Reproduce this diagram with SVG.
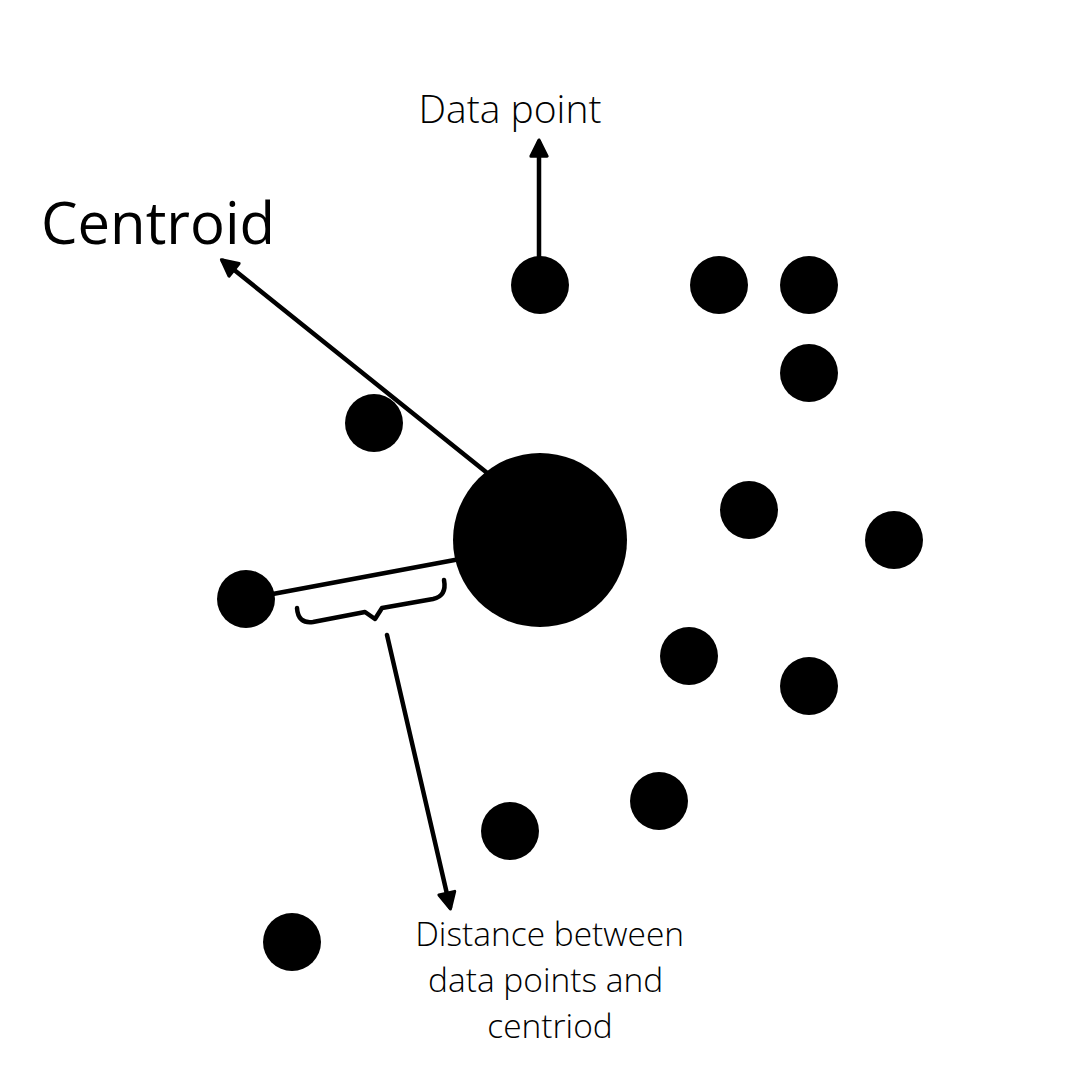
<svg xmlns="http://www.w3.org/2000/svg" width="1080" height="1080" viewBox="0 0 1080 1080">
<style>
.pt{fill:#000}
.ln{stroke:#000;stroke-width:4.5;fill:none;stroke-linecap:round;stroke-linejoin:round}
.lbl{font-family:"Open Sans","Noto Sans",sans-serif;font-weight:300;fill:#000}
</style>
<defs>
<marker id="ah" viewBox="0 0 10 10" refX="8" refY="5" markerWidth="4.5" markerHeight="4.5" orient="auto" markerUnits="strokeWidth">
<path d="M1,1 L9,5 L1,9 Z" fill="#000" stroke="#000" stroke-width="1.5" stroke-linejoin="round"/>
</marker>
</defs>
<rect width="1080" height="1080" fill="#fff"/>
<g id="connectors">
<line class="ln" x1="486" y1="472" x2="223" y2="261" marker-end="url(#ah)"/>
<line class="ln" x1="539" y1="258" x2="539" y2="142" marker-end="url(#ah)"/>
<line class="ln" x1="262" y1="596" x2="460" y2="559"/>
<path class="ln" d="M297,608 Q298,624 313,622 L365,612 L375,619 L382,608 L433,599 Q447,596 444,580"/>
<line class="ln" x1="387" y1="635" x2="450" y2="907" marker-end="url(#ah)"/>
</g>
<g id="centroid"><circle class="pt" cx="540" cy="540" r="87"/></g>
<g id="p1"><circle class="pt" cx="540" cy="285" r="29"/></g>
<g id="p2"><circle class="pt" cx="719" cy="285" r="29"/></g>
<g id="p3"><circle class="pt" cx="809" cy="285" r="29"/></g>
<g id="p4"><circle class="pt" cx="809" cy="373" r="29"/></g>
<g id="p5"><circle class="pt" cx="374" cy="423" r="29"/></g>
<g id="p6"><circle class="pt" cx="749" cy="510" r="29"/></g>
<g id="p7"><circle class="pt" cx="894" cy="540" r="29"/></g>
<g id="p8"><circle class="pt" cx="246" cy="599" r="29"/></g>
<g id="p9"><circle class="pt" cx="689" cy="656" r="29"/></g>
<g id="p10"><circle class="pt" cx="809" cy="686" r="29"/></g>
<g id="p11"><circle class="pt" cx="659" cy="801" r="29"/></g>
<g id="p12"><circle class="pt" cx="510" cy="831" r="29"/></g>
<g id="p13"><circle class="pt" cx="292" cy="942" r="29"/></g>
<g id="labels">
<text class="lbl" x="510" y="123" font-size="39" text-anchor="middle">Data point</text>
<text x="158" y="244" font-size="58" text-anchor="middle" font-family="'Open Sans','Noto Sans',sans-serif" fill="#000">Centroid</text>
<text class="lbl" font-size="33.5" text-anchor="middle">
<tspan x="554" y="946">Distance between</tspan>
<tspan x="550" y="992">data points and</tspan>
<tspan x="550" y="1038">centriod</tspan>
</text>
</g>
</svg>
